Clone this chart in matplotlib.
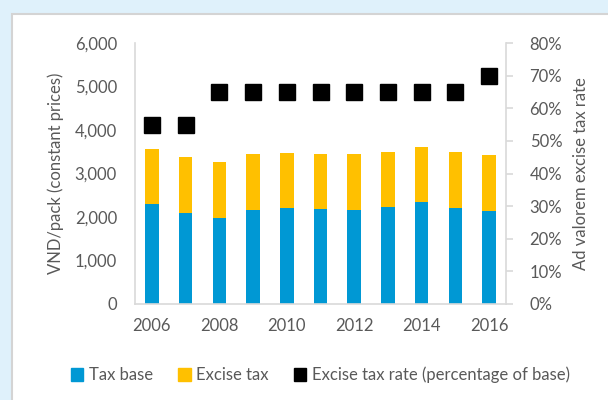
import numpy as np
import matplotlib
matplotlib.use('Agg')
import matplotlib.pyplot as plt
from matplotlib.patches import Rectangle, Patch

years = ['2006', '2007', '2008', '2009', '2010', '2011', '2012', '2013', '2014', '2015', '2016']
tax_base = [2300, 2100, 1985, 2170, 2210, 2185, 2160, 2230, 2340, 2215, 2140]
excise_tax = [1265, 1280, 1280, 1280, 1270, 1265, 1280, 1270, 1270, 1275, 1280]
excise_rate = [0.55, 0.55, 0.65, 0.65, 0.65, 0.65, 0.65, 0.65, 0.65, 0.65, 0.70]

blue = '#0098D4'
yellow = '#FFC000'
grey_txt = '#595959'
grey_line = '#D9D9D9'

plt.rcParams['font.family'] = ['Lato', 'DejaVu Sans']

fig = plt.figure(figsize=(6.08, 4), dpi=100)
fig.patch.set_facecolor('#DFF1FB')
# white panel
fig.patches.append(Rectangle((12 / 608, -0.1), 1.2, (400 - 14) / 400 + 0.1,
                             transform=fig.transFigure, facecolor='white',
                             edgecolor='#D4D4D4', linewidth=1.5, zorder=-10))

ax = fig.add_axes([135 / 608, 96 / 400, 371 / 608, 261 / 400])
ax.set_facecolor('none')
x = np.arange(len(years))
ax.bar(x, tax_base, width=0.4, color=blue, label='Tax base', zorder=2)
ax.bar(x, excise_tax, width=0.4, bottom=tax_base, color=yellow, label='Excise tax', zorder=2)
ax.set_xlim(-0.5, len(years) - 0.5)
ax.set_ylim(0, 6000)
ax.set_yticks(range(0, 6001, 1000))
ax.set_yticklabels([f'{v:,}' for v in range(0, 6001, 1000)])
ax.set_xticks(x[::2])
ax.set_xticklabels(years[::2])
ax.tick_params(axis='y', length=0, pad=13, labelsize=12, labelcolor=grey_txt)
ax.tick_params(axis='x', length=0, pad=10, labelsize=12, labelcolor=grey_txt)
for s in ['top', 'right']:
    ax.spines[s].set_visible(False)
for s in ['left', 'bottom']:
    ax.spines[s].set_color(grey_line)
    ax.spines[s].set_linewidth(1.2)
ax.set_ylabel('VND/pack (constant prices)', fontsize=12, color=grey_txt, labelpad=8)

ax2 = ax.twinx()
ax2.plot(x, excise_rate, linestyle='none', marker='s', markersize=11, color='black', zorder=3)
ax2.set_ylim(0, 0.8)
ax2.set_yticks(np.arange(0, 0.81, 0.1))
ax2.set_yticklabels([f'{int(round(v * 100))}%' for v in np.arange(0, 0.81, 0.1)])
ax2.tick_params(axis='y', length=5, width=1.2, color=grey_line, pad=12, labelsize=12, labelcolor=grey_txt)
for s in ['top', 'left', 'bottom']:
    ax2.spines[s].set_visible(False)
ax2.spines['right'].set_color(grey_line)
ax2.spines['right'].set_linewidth(1.2)
ax2.set_ylabel('Ad valorem excise tax rate', fontsize=12, color=grey_txt, labelpad=8)

handles = [Patch(color=blue), Patch(color=yellow), Patch(color='black')]
labels = ['Tax base', 'Excise tax', 'Excise tax rate (percentage of base)']
fig.legend(handles, labels, loc='center', bbox_to_anchor=(0.527, 25 / 400), ncol=3,
           frameon=False, fontsize=12, labelcolor=grey_txt, handlelength=0.75,
           handleheight=0.75, handletextpad=0.35, columnspacing=1.5)

fig.savefig('out.png', dpi=100, facecolor=fig.get_facecolor())
